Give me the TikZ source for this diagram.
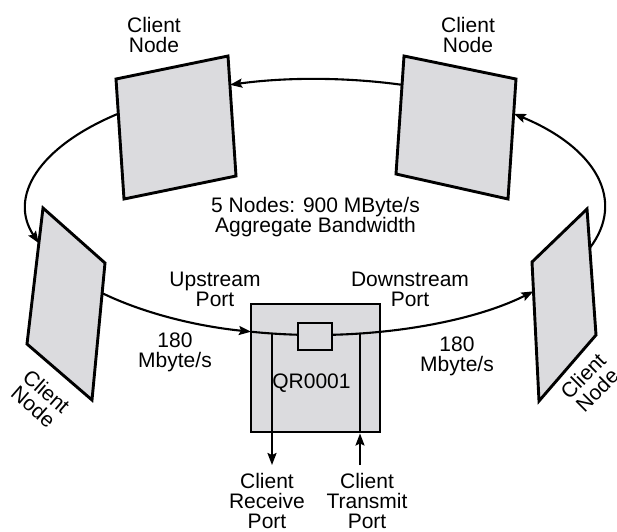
\documentclass[tikz,border=0pt]{standalone}
\usepackage{fontspec}
\newfontfamily\diagfont{Liberation Sans}
\usetikzlibrary{arrows.meta}
\definecolor{nodegray}{rgb}{0.86,0.86,0.87}

\begin{document}
\begin{tikzpicture}[
  x=1pt, y=-1pt,
  >={Stealth[length=12pt, width=9pt, inset=2pt]},
  txt/.style={font=\diagfont\fontsize{21}{20}\selectfont, align=center, inner sep=0pt},
  client/.style={draw=black, fill=nodegray, line width=2.9pt},
  qrbox/.style={rectangle, draw=black, fill=nodegray, line width=2.9pt, minimum width=129pt, minimum height=128pt},
  portbox/.style={rectangle, draw=black, fill=nodegray, line width=2.4pt, minimum width=34pt, minimum height=27pt},
  ring/.style={line width=2.1pt},
  flow/.style={->, line width=2.1pt},
]
\useasboundingbox (0,0) rectangle (617,531);

% ---- client nodes, seen in perspective round the ring ----
\draw[client] (116,79) -- (228,56) -- (236,176) -- (124,199) -- cycle;   % top left
\draw[client] (404,56) -- (516,79) -- (508,199) -- (396,174) -- cycle;   % top right
\draw[client] (43,208) -- (105,263) -- (92,400) -- (27,344) -- cycle;    % left
\draw[client] (532,262) -- (587,209) -- (596,335) -- (539,401) -- cycle; % right

% ---- the QR0001 node ----
\node[qrbox] (qr) at (315.5,368) {};

% ---- ring: centre (316,207), radii 289 x 128 ----
\coordinate (left-out)  at ({316+289*cos(137.7)},{207+128*sin(137.7)});
\coordinate (qr-in)     at ({316+289*cos(103)},{207+128*sin(103)});
\coordinate (port-out)  at ({316+289*cos(86.83)},{207+128*sin(86.83)});
\coordinate (right-out) at ({316+289*cos(18.6)},{207+128*sin(18.6)});
\coordinate (tr-out)    at ({316+289*cos(-72.7)},{207+128*sin(-72.7)});
\coordinate (tl-out)    at ({316+289*cos(226.5)},{207+128*sin(226.5)});

\draw[flow] (left-out)  arc[start angle=137.7, end angle=103,   x radius=289, y radius=128];
\draw[ring] (qr-in)     arc[start angle=103,   end angle=93.57, x radius=289, y radius=128];
\draw[flow] (port-out)  arc[start angle=86.83, end angle=41.2,  x radius=289, y radius=128];
\draw[flow] (right-out) arc[start angle=18.6,  end angle=-46.8, x radius=289, y radius=128];
\draw[flow] (tr-out)    arc[start angle=-72.7, end angle=-107.3, x radius=289, y radius=128];
\draw[flow] (tl-out)    arc[start angle=226.5, end angle=163.6, x radius=289, y radius=128];

\node[portbox] (port) at (315,336.5) {};

% ---- client ports ----
\coordinate (rx-top) at (272,333.6);
\coordinate (rx-end) at (272,465);
\coordinate (tx-top) at (360,333.6);
\coordinate (tx-end) at (360,465);
\draw[flow] (rx-top) -- (rx-end);
\draw[flow] (tx-end) -- (tx-end |- qr.south);
\draw[ring] (tx-end |- qr.south) -- (tx-top);

% ---- labels ----
\node[txt, anchor=north] (tl-name)   at (154,17)    {Client\\Node};
\node[txt, anchor=north] (tr-name)   at (468,17)    {Client\\Node};
\node[txt, anchor=north] (total)     at (315.5,197) {5 Nodes: 900 MByte/s\\Aggregate Bandwidth};
\node[txt, anchor=north] (up-name)   at (215,271.5) {Upstream\\Port};
\node[txt, anchor=north] (down-name) at (410,271.5) {Downstream\\Port};
\node[txt, anchor=north] (up-rate)   at (175,333)   {180\\Mbyte/s};
\node[txt, anchor=north] (down-rate) at (457,336.5) {180\\Mbyte/s};
\node[txt, anchor=north] (qr-name)   at (311.5,374) {QR0001};
\node[txt, anchor=north] (rx-name)   at (267,473)   {Client\\Receive\\Port};
\node[txt, anchor=north] (tx-name)   at (367,473)   {Client\\Transmit\\Port};
\node[txt, rotate=-41]   (l-name)    at (40,399)    {Client\\Node};
\node[txt, rotate=45]    (r-name)    at (590,383)   {Client\\Node};

\end{tikzpicture}
\end{document}
